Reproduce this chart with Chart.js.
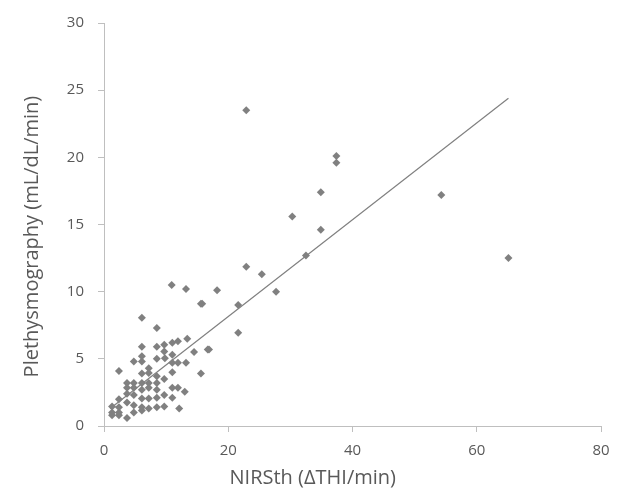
<!DOCTYPE html>
<html>
<head>
<meta charset="utf-8">
<script src="https://cdn.jsdelivr.net/npm/chart.js@4.4.0/dist/chart.umd.min.js"></script>
<style>
  html, body { margin: 0; padding: 0; background: #fff; }
  canvas { display: block; }
</style>
</head>
<body>
<canvas id="scatterChart" width="623" height="498"></canvas>
<script>
// NIRSth (ΔTHI/min) vs plethysmography (mL/dL/min)
const nirsValues = [
    22.9, 37.4, 37.4, 34.9, 54.3, 65.1, 30.3, 34.9, 32.5,
    22.9, 25.4, 18.2, 27.7, 15.8, 21.6, 21.6, 16.9, 10.9, 13.2, 15.6,
    6.1, 8.5, 13.4, 11.9, 11.0, 9.7, 8.5, 6.1, 9.7, 14.5, 16.7,
    6.1, 11.0, 9.8, 8.5, 4.8, 6.1, 11.0, 11.9, 13.2,
    2.4, 7.2, 7.2, 11.0, 15.6, 6.1, 8.5, 9.7,
    3.7, 4.8, 6.1, 7.2, 8.5, 11.0, 11.9, 3.7, 4.8, 6.1, 7.2, 8.5, 13.0,
    3.7, 4.8, 9.7, 11.0, 2.4, 6.1, 7.2, 8.5, 3.7,
    1.3, 2.4, 4.8, 6.1, 7.2, 8.5, 9.7, 12.1,
    1.3, 2.4, 4.8, 6.1, 1.3, 3.7, 2.4
];
const plethValues = [
    23.5, 20.1, 19.6, 17.4, 17.2, 12.5, 15.6, 14.6, 12.7,
    11.85, 11.3, 10.1, 10.0, 9.1, 9.0, 6.95, 5.7, 10.5, 10.2, 9.1,
    8.05, 7.3, 6.5, 6.3, 6.2, 6.05, 5.9, 5.9, 5.55, 5.5, 5.7,
    5.2, 5.3, 5.05, 5.0, 4.8, 4.8, 4.7, 4.7, 4.7,
    4.1, 4.3, 3.95, 4.0, 3.9, 3.9, 3.7, 3.5,
    3.2, 3.2, 3.2, 3.2, 3.2, 2.85, 2.85, 2.85, 2.85, 2.7, 2.85, 2.7, 2.55,
    2.4, 2.3, 2.3, 2.1, 2.0, 2.05, 2.05, 2.1, 1.75,
    1.45, 1.4, 1.55, 1.4, 1.3, 1.4, 1.45, 1.3,
    1.0, 1.0, 1.0, 1.15, 0.8, 0.6, 0.8
];

// linear trend line end points
const trendX = [1.0, 65.1];
const trendY = [1.3, 24.4];

const xTicks = [0, 20, 40, 60, 80];
const yTicks = [0, 5, 10, 15, 20, 25, 30];

const xTitle = 'NIRSth (ΔTHI/min)';
const yTitle = 'Plethysmography (mL/dL/min)';

const textColor = '#595959';
const axisColor = '#bfbfbf';
const markColor = '#808080';
const fontFamily = '"Open Sans", Lato, sans-serif';

const scatterPoints = nirsValues.map((x, i) => ({ x: x, y: plethValues[i] }));
const trendPoints = trendX.map((x, i) => ({ x: x, y: trendY[i] }));

// axis titles placed like the original (offset from plot centre)
const axisTitles = {
    id: 'axisTitles',
    afterDraw(chart) {
        const ctx = chart.ctx;
        const area = chart.chartArea;
        ctx.save();
        ctx.fillStyle = textColor;
        ctx.font = '20px ' + fontFamily;
        ctx.textAlign = 'center';
        ctx.textBaseline = 'middle';
        ctx.fillText(xTitle, area.left + (area.right - area.left) * 0.42, 478);
        ctx.translate(32, area.top + (area.bottom - area.top) * 0.53);
        ctx.rotate(-Math.PI / 2);
        ctx.fillText(yTitle, 0, 0);
        ctx.restore();
    }
};

const ctx = document.getElementById('scatterChart').getContext('2d');
const chart = new Chart(ctx, {
    type: 'scatter',
    data: {
        datasets: [
            {
                label: 'Data',
                data: scatterPoints,
                pointStyle: 'rectRot',
                pointRadius: 4,
                backgroundColor: markColor,
                borderColor: markColor,
                borderWidth: 0
            },
            {
                label: 'Trend',
                type: 'line',
                data: trendPoints,
                showLine: true,
                borderColor: markColor,
                borderWidth: 1.2,
                pointRadius: 0,
                fill: false
            }
        ]
    },
    options: {
        responsive: false,
        animation: false,
        layout: { padding: { top: 16, right: 22, left: 0, bottom: 0 } },
        plugins: {
            legend: { display: false },
            tooltip: { enabled: false }
        },
        scales: {
            x: {
                type: 'linear',
                min: 0,
                max: 80,
                afterFit(scale) { scale.height = 72; },
                afterBuildTicks(scale) { scale.ticks = xTicks.map(v => ({ value: v })); },
                grid: { drawOnChartArea: false, drawTicks: true, tickLength: 6, color: axisColor },
                border: { color: axisColor, width: 1 },
                ticks: { color: textColor, padding: 10, font: { family: fontFamily, size: 15 } }
            },
            y: {
                type: 'linear',
                min: 0,
                max: 30,
                afterFit(scale) { scale.width = 104; },
                afterBuildTicks(scale) { scale.ticks = yTicks.map(v => ({ value: v })); },
                grid: { drawOnChartArea: false, drawTicks: true, tickLength: 6, color: axisColor },
                border: { color: axisColor, width: 1 },
                ticks: { color: textColor, padding: 14, font: { family: fontFamily, size: 15 } }
            }
        }
    },
    plugins: [axisTitles]
});
</script>
</body>
</html>
